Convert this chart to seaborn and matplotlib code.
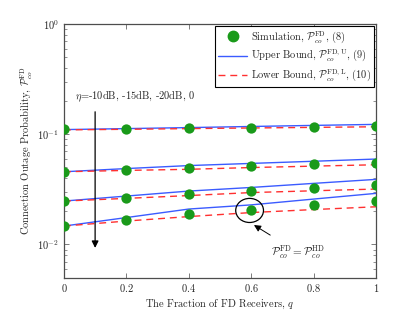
import numpy as np
import pandas as pd
import matplotlib
matplotlib.use("Agg")
import matplotlib.pyplot as plt
from matplotlib.patches import Ellipse
from matplotlib.ticker import FuncFormatter, FixedLocator, LogLocator, NullFormatter
import seaborn as sns

# ---- data ----
q = [0.0, 0.2, 0.4, 0.6, 0.8, 1.0]
eta_labels = ["-10dB", "-15dB", "-20dB", "0"]

sim = {
    "-10dB": [0.1108, 0.1122, 0.1138, 0.1146, 0.1170, 0.1187],
    "-15dB": [0.0457, 0.0473, 0.0497, 0.0518, 0.0532, 0.0552],
    "-20dB": [0.0248, 0.0265, 0.0287, 0.0303, 0.0325, 0.0344],
    "0":     [0.0147, 0.0168, 0.0188, 0.0207, 0.0226, 0.0248],
}
upper = {
    "-10dB": [0.1103, 0.1126, 0.1150, 0.1177, 0.1204, 0.1230],
    "-15dB": [0.04568, 0.04884, 0.0520, 0.0544, 0.0569, 0.0596],
    "-20dB": [0.02477, 0.02749, 0.03052, 0.03291, 0.03584, 0.03897],
    "0":     [0.01469, 0.01754, 0.02096, 0.02287, 0.02582, 0.02909],
}
lower = {
    "-10dB": [0.1096, 0.1110, 0.1126, 0.1141, 0.1155, 0.1170],
    "-15dB": [0.0457, 0.0470, 0.0481, 0.0499, 0.0514, 0.0529],
    "-20dB": [0.02477, 0.02620, 0.02778, 0.02958, 0.03071, 0.03183],
    "0":     [0.01469, 0.01631, 0.01791, 0.01948, 0.02074, 0.02198],
}

x_ticks = [0, 0.2, 0.4, 0.6, 0.8, 1]
y_ticks = [1e-2, 1e-1, 1e0]

rows = []
for e in eta_labels:
    for i, qq in enumerate(q):
        rows.append(dict(q=qq, eta=e, kind="sim", p=sim[e][i]))
        rows.append(dict(q=qq, eta=e, kind="upper", p=upper[e][i]))
        rows.append(dict(q=qq, eta=e, kind="lower", p=lower[e][i]))
df = pd.DataFrame(rows)

# ---- style ----
sns.set_style("ticks")
plt.rcParams["font.family"] = ["serif"]
plt.rcParams["font.serif"] = ["cmr10", "DejaVu Serif"]
plt.rcParams["mathtext.fontset"] = "cm"
plt.rcParams["axes.unicode_minus"] = False
plt.rcParams["axes.formatter.use_mathtext"] = True

fig = plt.figure(figsize=(4.15, 3.13), dpi=100)
ax = fig.add_axes([0.154, 0.113, 0.752, 0.81])

blue = "#3b5bff"
red = "#ff3030"
green = "#1a9a1a"

for e in eta_labels:
    d = df[df.eta == e]
    sns.lineplot(data=d[d.kind == "upper"], x="q", y="p", ax=ax, color=blue,
                 lw=1.0, label=None, legend=False)
    sns.lineplot(data=d[d.kind == "lower"], x="q", y="p", ax=ax, color=red,
                 lw=1.0, dashes=False, linestyle=(0, (5, 3.5)), legend=False)
for e in eta_labels:
    d = df[(df.eta == e) & (df.kind == "sim")]
    sns.scatterplot(data=d, x="q", y="p", ax=ax, color=green, s=55,
                    edgecolor=green, linewidth=0, zorder=5, legend=False)

ax.set_yscale("log")
ax.set_xlim(0, 1)
ax.set_ylim(0.005, 1)
ax.xaxis.set_major_locator(FixedLocator(x_ticks))
ax.xaxis.set_major_formatter(FuncFormatter(lambda v, p: r"$\mathsf{%g}$" % v))
ax.yaxis.set_major_locator(FixedLocator(y_ticks))
ax.yaxis.set_major_formatter(FuncFormatter(lambda v, p: r"$\mathsf{10^{%d}}$" % round(np.log10(v))))
ax.yaxis.set_minor_locator(LogLocator(base=10, subs=np.arange(2, 10), numticks=20))
ax.yaxis.set_minor_formatter(NullFormatter())
ax.tick_params(which="both", direction="in", top=True, right=True,
               labelsize=7.5, color="0.4")
ax.tick_params(which="major", length=3.5, width=0.6)
ax.tick_params(which="minor", length=2, width=0.5)
for s in ax.spines.values():
    s.set_color("0.3")
    s.set_linewidth(0.9)

ax.set_xlabel(r"The Fraction of FD Receivers, $q$", fontsize=7.5, labelpad=2)
ax.set_ylabel(r"Connection Outage Probability, $\mathcal{P}_{co}^{\rm FD}$",
              fontsize=7.5, labelpad=2)

# legend
from matplotlib.lines import Line2D
handles = [
    Line2D([], [], marker="o", ls="none", color=green, markersize=7.5),
    Line2D([], [], color=blue, lw=1.0),
    Line2D([], [], color=red, lw=1.0, linestyle=(0, (5, 3.5))),
]
labels = [
    r"Simulation, $\mathcal{P}_{co}^{\rm FD}$, (8)",
    r"Upper Bound, $\mathcal{P}_{co}^{\rm FD,U}$, (9)",
    r"Lower Bound, $\mathcal{P}_{co}^{\rm FD,L}$, (10)",
]
leg = ax.legend(handles, labels, loc="upper right", fontsize=7.5,
                frameon=True, fancybox=False, framealpha=1,
                borderpad=0.3, labelspacing=0.35, handlelength=2.8,
                handletextpad=0.4, borderaxespad=0.15)
leg.get_frame().set_edgecolor("black")
leg.get_frame().set_linewidth(0.8)

# eta annotation
ax.text(0.035, 0.218, r"$\eta$=-10dB, -15dB, -20dB, 0", fontsize=7.5,
        va="center", ha="left")
ax.annotate("", xy=(0.1, 0.0093), xytext=(0.1, 0.16),
            arrowprops=dict(arrowstyle="-|>", color="black", lw=0.9,
                            mutation_scale=10, shrinkA=0, shrinkB=0))

# ellipse and equality annotation
ax.add_patch(Ellipse((0.595, 0.265), 0.089, 0.095, transform=ax.transAxes,
                     fill=False, edgecolor="black", lw=0.9, zorder=6))
ax.annotate(r"$\mathcal{P}_{co}^{\rm FD}=\mathcal{P}_{co}^{\rm HD}$",
            xy=(0.609, 0.0150), xytext=(0.75, 0.0085),
            ha="center", va="center", fontsize=8,
            arrowprops=dict(arrowstyle="-|>", color="black", lw=0.7,
                            mutation_scale=10, shrinkA=7, shrinkB=0))

fig.savefig("out.png", dpi=100)
